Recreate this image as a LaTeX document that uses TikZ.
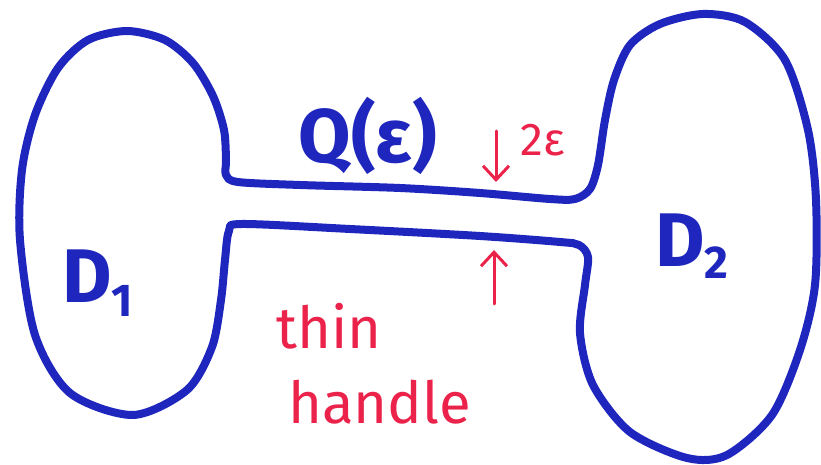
\documentclass[tikz,border=0pt]{standalone}
\usepackage{fontspec}
\setmainfont{Fira Sans}
\usetikzlibrary{arrows.meta}
\definecolor{pen}{RGB}{30,38,190}
\definecolor{redpen}{RGB}{235,35,75}
\tikzset{
  outline/.style={draw=pen, line width=8pt, line join=round},
  bluelabel/.style={text=pen, font=\fontsize{76}{80}\selectfont\bfseries, inner sep=0pt},
  redlabel/.style={text=redpen, font=\fontsize{58}{62}\selectfont, inner sep=0pt, align=left},
  redarrow/.style={draw=redpen, line width=3pt, line cap=round, -{Straight Barb[length=14pt,width=26pt,line width=3pt]}},
}
\begin{document}
\begin{tikzpicture}[x=1pt,y=-1pt]
\useasboundingbox (0,0) rectangle (821,465);
\draw[outline] plot[smooth cycle, tension=0.5] coordinates {
 (127,31) (165,40) (193,63) (213,96) (224,130) (226,160) (226,175) (238,182)
 (300,185) (400,188) (480,193) (550,199) (575,199) (590,189) (598,165) (605,120)
 (614,80) (630,45) (660,24) (703,14) (745,22) (785,60) (808,130) (816,200)
 (815,285) (800,350) (772,415) (727,455) (687,458) (630,432) (593,385) (580,333)
 (585,285) (588,257) (579,245) (560,242) (480,236) (350,229) (242,224) (229,231)
 (225,260) (221,300) (212,347) (187,390) (133,415) (70,393) (35,335) (20,240)
 (22,170) (35,115) (58,68) (88,40)};
\node[bluelabel] (q) at (368,136) {Q(ε)};
\node[bluelabel, anchor=base west] (d1) at (62,302) {D\raisebox{-14pt}{\fontsize{46}{48}\selectfont 1}};
\node[bluelabel, anchor=base west] (d2) at (655,266) {D\raisebox{-12pt}{\fontsize{46}{48}\selectfont 2}};
\node[text=redpen, font=\fontsize{46}{48}\selectfont, inner sep=0pt] (eps) at (543,140) {2ε};
\coordinate (a1) at (496,131);
\coordinate (a2) at (496,182);
\coordinate (b1) at (494,304);
\coordinate (b2) at (494,250);
\draw[redarrow] (a1) -- (a2);
\draw[redarrow] (b1) -- (b2);
\node[redlabel, anchor=base west] (thin) at (276,348) {thin};
\node[redlabel, anchor=base west] (handle) at (288,423) {handle};
\end{tikzpicture}
\end{document}
